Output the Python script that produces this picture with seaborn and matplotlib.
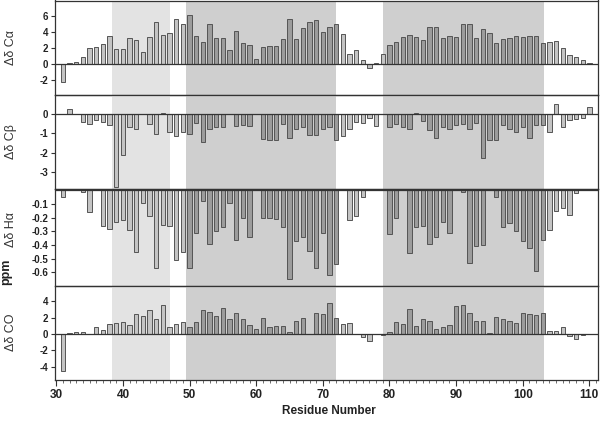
import numpy as np
import pandas as pd
import seaborn as sns
import matplotlib.pyplot as plt
from matplotlib.ticker import MultipleLocator

nan = np.nan

# residue numbers 31..110
residues = list(range(31, 111))

# chemical shift deviations (ppm)
ca = [-2.2, 0.1, 0.3, 0.9, 2.0, 2.1, 2.5, 3.5, 1.85, 1.95,
      3.3, 3.0, 1.5, 3.4, 5.25, 3.65, 3.9, 5.6, 5.05, 6.1,
      3.5, 2.75, 5.0, 3.3, 3.3, 1.75, 4.1, 2.7, 2.4, 0.7,
      2.1, 2.25, 2.25, 3.15, 5.6, 3.2, 4.5, 5.25, 5.55, 4.0,
      4.7, 5.0, 3.75, 1.25, 1.75, 0.5, -0.5, 0.1, 1.25, 2.4,
      2.75, 3.4, 3.65, 3.4, 3.0, 4.6, 4.6, 3.25, 3.5, 3.4,
      5.0, 5.0, 3.25, 4.4, 3.9, 2.6, 3.1, 3.25, 3.5, 3.4,
      3.5, 3.5, 2.6, 2.75, 2.9, 2.0, 1.1, 0.85, 0.5, 0.15]

cb = [nan, 0.25, nan, -0.43, -0.52, -0.28, -0.42, -0.57, -3.77, -2.12,
      -0.68, -0.75, nan, -0.49, -1.04, 0.05, -0.95, -1.15, -0.92, -1.04,
      -0.45, -1.46, -0.76, -0.68, -0.68, nan, -0.63, -0.57, -0.63, nan,
      -1.27, -1.35, -1.35, -0.49, -1.22, -0.78, -0.68, -1.11, -1.11, -0.78,
      -0.68, -1.34, -1.15, -0.76, -0.43, -0.47, -0.19, -0.63, nan, -0.68,
      -0.49, -0.68, -0.76, 0.05, -0.36, -0.83, -1.25, -0.68, -0.76, -0.57,
      -0.49, -0.76, -0.47, -2.29, -1.35, -1.35, -0.57, -0.76, -0.95, -0.68,
      -1.25, -0.57, -0.57, -0.94, 0.54, -0.68, -0.31, -0.23, -0.19, 0.36]

ha = [-0.05, nan, nan, -0.01, -0.16, nan, -0.26, -0.28, -0.23, -0.22,
      -0.29, -0.45, -0.09, -0.19, -0.57, -0.25, -0.26, -0.51, -0.45, -0.57,
      -0.31, -0.08, -0.39, -0.30, -0.27, -0.09, -0.36, -0.20, -0.34, nan,
      -0.20, -0.20, -0.21, -0.27, -0.65, -0.37, -0.34, -0.44, -0.57, -0.31,
      -0.62, -0.54, nan, -0.22, -0.19, -0.05, nan, nan, nan, -0.32,
      -0.20, nan, -0.46, -0.27, -0.26, -0.39, -0.34, -0.23, -0.31, nan,
      -0.01, -0.53, -0.41, -0.40, nan, -0.05, -0.27, -0.24, -0.30, -0.37,
      -0.42, -0.59, -0.36, -0.29, -0.15, -0.13, -0.18, -0.02, nan, nan]

co = [-4.5, 0.08, 0.3, 0.2, -0.05, 0.8, 0.45, 1.2, 1.3, 1.45,
      1.05, 2.4, 2.15, 3.0, 1.9, 3.5, 0.9, 1.2, 1.5, 0.8,
      1.45, 2.9, 2.65, 2.15, 3.15, 1.85, 2.6, 1.9, 1.05, 0.6,
      2.0, 0.8, 1.0, 1.0, 0.2, 1.6, 1.95, nan, 2.6, 2.45,
      3.8, 1.95, 1.2, 1.35, 0.02, -0.35, -0.9, nan, -0.15, 0.25,
      1.5, 1.2, 3.05, 1.0, 1.85, 1.65, 0.6, 0.9, 1.1, 3.45,
      3.55, 2.6, 1.6, 1.6, 0.1, 2.1, 1.9, 1.6, 1.4, 2.6,
      2.45, 2.35, 2.6, 0.35, 0.4, 0.9, -0.3, -0.6, -0.1, nan]

# helix regions (shaded)
light_span = (38.3, 47.1)
dark_spans = [(49.5, 72.0), (79.0, 103.2)]
dark_residues = list(range(50, 73)) + list(range(80, 104))

sns.set_style('white')
plt.rcParams['font.family'] = ['Liberation Sans', 'DejaVu Sans']
plt.rcParams['axes.unicode_minus'] = False

region = ['helix' if r in dark_residues else 'other' for r in residues]
pal = {'helix': '#9c9c9c', 'other': '#c4c4c4'}

panels = [
    (ca, r'Δδ Cα', (-3.84, 7.97), [-2, 0, 2, 4, 6], '%d', 0.5),
    (cb, r'Δδ Cβ', (-3.9, 1.0), [-3, -2, -1, 0], '%d', 0.5),
    (ha, r'Δδ Hα', (-0.695, 0.01), [-0.6, -0.5, -0.4, -0.3, -0.2, -0.1], '%.1f', 0.58),
    (co, r'Δδ CO', (-5.58, 5.95), [-4, -2, 0, 2, 4], '%d', 0.5),
]

# panel bounds in pixels from the top of the 600x422 image
bounds = [(0.5, 95), (95, 189), (189, 285.5), (285.5, 379.5)]

fig = plt.figure(figsize=(6, 4.22), dpi=100)
axes = []
for (top, bot) in bounds:
    ax = fig.add_axes([55 / 600, 1 - bot / 422, 543 / 600, (bot - top) / 422])
    axes.append(ax)

for ax, (vals, lab, ylim, yt, fmt, ly) in zip(axes, panels):
    df = pd.DataFrame({'res': residues, 'val': vals, 'region': region})
    ax.axvspan(*light_span, color='#e3e3e3', lw=0, zorder=0)
    for s in dark_spans:
        ax.axvspan(*s, color='#cfcfcf', lw=0, zorder=0)
    sns.barplot(data=df, x='res', y='val', hue='region', palette=pal,
                native_scale=True, width=0.65, dodge=False, errorbar=None,
                legend=False, edgecolor='#555555', linewidth=0.7, ax=ax)
    ax.axhline(0, color='#333333', lw=0.9, zorder=3)
    ax.set_xlim(29.8, 111.3)
    ax.set_ylim(*ylim)
    ax.set_yticks(yt)
    ax.set_yticklabels([fmt % v for v in yt], fontsize=7, fontweight='bold',
                       color='#222222')
    ax.tick_params(axis='y', direction='out', length=3, width=0.8,
                   color='#333333', pad=2, left=True)
    ax.set_xlabel('')
    ax.set_ylabel(lab, fontsize=9, color='#333333')
    ax.yaxis.set_label_coords(-0.07, ly)
    for sp in ax.spines.values():
        sp.set_color('#333333')
        sp.set_linewidth(0.9)
    ax.set_facecolor('none')
    if ax is not axes[-1]:
        ax.set_xticks([])
    else:
        ax.set_xticks(range(30, 111, 10))
        ax.xaxis.set_minor_locator(MultipleLocator(1))
        ax.set_xticklabels([str(t) for t in range(30, 111, 10)], fontsize=8.5,
                           fontweight='bold', color='#222222')
        ax.tick_params(axis='x', which='major', direction='out', length=4,
                       width=0.8, color='#333333', bottom=True, pad=3)
        ax.tick_params(axis='x', which='minor', direction='out', length=2,
                       width=0.6, color='#555555', bottom=True)

fig.text(0.548, 0.026, 'Residue Number', ha='center', va='center',
         fontsize=8.5, fontweight='bold', color='#222222')
fig.text(0.011, 0.355, 'ppm', ha='center', va='center', rotation=90,
         fontsize=9, fontweight='bold', color='#222222')

fig.savefig('out.png', dpi=100)
